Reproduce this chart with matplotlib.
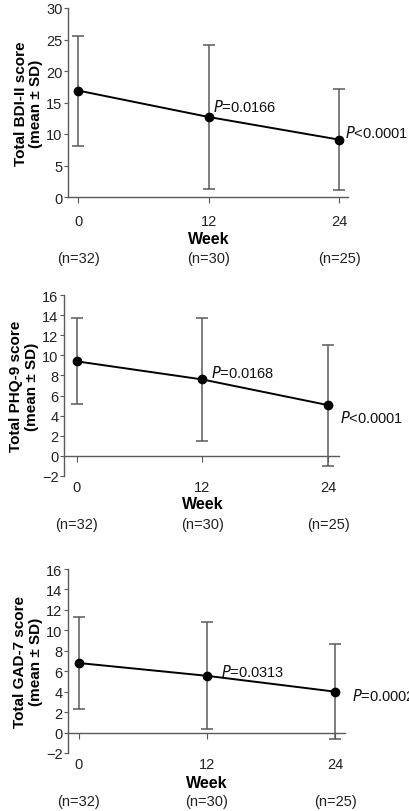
import matplotlib.pyplot as plt
from matplotlib.transforms import blended_transform_factory

plt.rcParams['font.family'] = ['Liberation Sans', 'DejaVu Sans']

weeks = [0, 12, 24]
n_labels = ['(n=32)', '(n=30)', '(n=25)']

bdi_mean = [16.9, 12.7, 9.1]
bdi_low = [8.1, 1.3, 1.1]
bdi_high = [25.6, 24.1, 17.2]

phq_mean = [9.4, 7.6, 5.05]
phq_low = [5.15, 1.5, -1.0]
phq_high = [13.7, 13.7, 11.05]

gad_mean = [6.8, 5.55, 4.0]
gad_low = [2.3, 0.3, -0.6]
gad_high = [11.3, 10.85, 8.65]

bdi_p = ['$\\it{P}$=0.0166', '$\\it{P}$<0.0001']
phq_p = ['$\\it{P}$=0.0168', '$\\it{P}$<0.0001']
gad_p = ['$\\it{P}$=0.0313', '$\\it{P}$=0.0002']

W, H = 410, 812
fig = plt.figure(figsize=(W / 100, H / 100), dpi=100)

gray = '#5a5a5a'


def panel(px_left, px_right, px_top, px_bottom, xlim, ylim, yticks,
          mean, low, high, ylabel, plabels, ppos, tickpad, week_off, n_off):
    ax = fig.add_axes([px_left / W, 1 - px_bottom / H,
                       (px_right - px_left) / W, (px_bottom - px_top) / H])
    lo = [m - l for m, l in zip(mean, low)]
    hi = [h - m for m, h in zip(mean, high)]
    ax.errorbar(weeks, mean, yerr=[lo, hi], fmt='none', ecolor=gray,
                elinewidth=1.1, capsize=4, capthick=1.1, zorder=2)
    ax.plot(weeks, mean, color='black', lw=1.4, marker='o', ms=6, zorder=3)
    ax.set_xlim(*xlim)
    ax.set_ylim(*ylim)
    ax.set_yticks(yticks)
    ax.set_yticklabels([str(t).replace('-', '\u2212') for t in yticks])
    ax.set_xticks(weeks)
    ax.spines['top'].set_visible(False)
    ax.spines['right'].set_visible(False)
    ax.spines['bottom'].set_position(('data', 0))
    for s in ('left', 'bottom'):
        ax.spines[s].set_color(gray)
        ax.spines[s].set_linewidth(1.0)
    ax.tick_params(axis='y', direction='out', length=3, color=gray,
                   labelsize=10.5, pad=1, labelcolor='#222222')
    ax.tick_params(axis='x', direction='out', length=4, color=gray,
                   labelsize=10.5, pad=tickpad, labelcolor='#222222')
    ax.set_ylabel(ylabel, fontsize=11, fontweight='bold', labelpad=2,
                  linespacing=1.15)
    for (x, y), txt in zip(ppos, plabels):
        ax.text(x, y, txt, fontsize=10.5, va='center', ha='left', color='#111111')
    tr = blended_transform_factory(ax.transData, ax.transAxes)
    ax.annotate('Week', xy=(12, 0), xycoords=tr, xytext=(0, -week_off),
                textcoords='offset points', ha='center', va='center',
                fontsize=11.5, fontweight='bold')
    for x, lab in zip(weeks, n_labels):
        ax.annotate(lab, xy=(x, 0), xycoords=tr, xytext=(0, -n_off),
                    textcoords='offset points', ha='center', va='center',
                    fontsize=10.5, color='#222222')
    return ax


panel(68, 348, 9, 198, (-0.92, 24.8), (0, 30), [0, 5, 10, 15, 20, 25, 30],
      bdi_mean, bdi_low, bdi_high, 'Total BDI-II score\n(mean \u00b1 SD)',
      bdi_p, [(12.4, 14.5), (24.5, 10.3)], 8, 30, 44)

panel(64, 339, 296, 477, (-1.24, 25.05), (-2, 16), list(range(-2, 17, 2)),
      phq_mean, phq_low, phq_high, 'Total PHQ-9 score\n(mean \u00b1 SD)',
      phq_p, [(12.8, 8.3), (25.1, 3.9)], 13.5, 20, 34.5)

panel(68, 345, 570, 754, (-1.03, 24.93), (-2, 16), list(range(-2, 17, 2)),
      gad_mean, gad_low, gad_high, 'Total GAD-7 score\n(mean \u00b1 SD)',
      gad_p, [(13.3, 6.0), (25.6, 3.7)], 13.5, 21, 34.5)

fig.savefig('out.png', dpi=100)
